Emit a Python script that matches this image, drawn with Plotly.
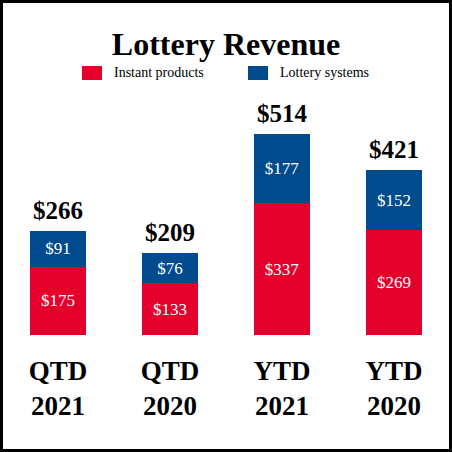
import plotly.graph_objects as go

categories = ["QTD<br>2021", "QTD<br>2020", "YTD<br>2021", "YTD<br>2020"]
instant = [175, 133, 337, 269]
systems = [91, 76, 177, 152]
totals = [266, 209, 514, 421]

RED = "#E4002B"
BLUE = "#004B8D"
FONT = "Liberation Serif"

W, H = 452, 452
ML, MR, MT, MB = 2, 2, 100, 117
PW, PH = W - ML - MR, H - MT - MB

def px(x):
    return (x - ML) / PW

def py(y):
    return (H - MB - y) / PH

inner_font = dict(family=FONT, size=17, color="white")

fig = go.Figure()
fig.add_trace(go.Bar(
    x=categories, y=instant, name="Instant products", marker_color=RED,
    text=[f"${v}" for v in instant], textposition="inside", insidetextanchor="middle",
    textfont=inner_font, insidetextfont=inner_font, width=0.5,
    marker_line_width=0, textangle=0,
))
fig.add_trace(go.Bar(
    x=categories, y=systems, name="Lottery systems", marker_color=BLUE,
    text=[f"${v}" for v in systems], textposition="inside", insidetextanchor="middle",
    textfont=inner_font, insidetextfont=inner_font, width=0.5,
    marker_line_width=0, textangle=0,
))

annotations = []
for c, t in zip(categories, totals):
    annotations.append(dict(
        x=c, y=t, xref="x", yref="y", text=f"<b>${t}</b>", showarrow=False,
        yanchor="bottom", yshift=5, font=dict(family=FONT, size=25, color="black"),
    ))

shapes = [
    dict(type="rect", xref="paper", yref="paper", x0=px(82), x1=px(102), y0=py(80), y1=py(66),
         fillcolor=RED, line_width=0),
    dict(type="rect", xref="paper", yref="paper", x0=px(248), x1=px(268), y0=py(80), y1=py(66),
         fillcolor=BLUE, line_width=0),
    dict(type="rect", xref="paper", yref="paper", x0=px(1.5), x1=px(450.5), y0=py(450.5), y1=py(1.5),
         line=dict(color="black", width=3), fillcolor="rgba(0,0,0,0)"),
]
annotations += [
    dict(xref="paper", yref="paper", x=px(112), y=py(73), text="Instant products", showarrow=False,
         xanchor="left", yanchor="middle", font=dict(family=FONT, size=14, color="black")),
    dict(xref="paper", yref="paper", x=px(278), y=py(73), text="Lottery systems", showarrow=False,
         xanchor="left", yanchor="middle", font=dict(family=FONT, size=14, color="black")),
]

fig.update_layout(
    width=W, height=H, barmode="stack", showlegend=False,
    margin=dict(l=ML, r=MR, t=MT, b=MB, pad=0),
    paper_bgcolor="white", plot_bgcolor="white",
    uniformtext=dict(minsize=17, mode="show"),
    title=dict(text="<b>Lottery Revenue</b>", x=0.5, xanchor="center", y=1 - 44 / H, yanchor="middle",
               font=dict(family=FONT, size=32, color="black")),
    xaxis=dict(range=[-0.5, 3.5], showgrid=False, zeroline=False, showline=False, ticks="",
               tickfont=dict(family=FONT, size=27, color="black"), ticklabelstandoff=17),
    yaxis=dict(range=[0, 601], visible=False),
    shapes=shapes, annotations=annotations,
)
fig.update_xaxes(tickvals=categories, ticktext=[f"<b>{c}</b>" for c in categories])

fig.write_html("out.html", config={"displayModeBar": False, "staticPlot": True},
               post_script="document.body.style.margin='0';document.body.style.overflow='hidden';")
